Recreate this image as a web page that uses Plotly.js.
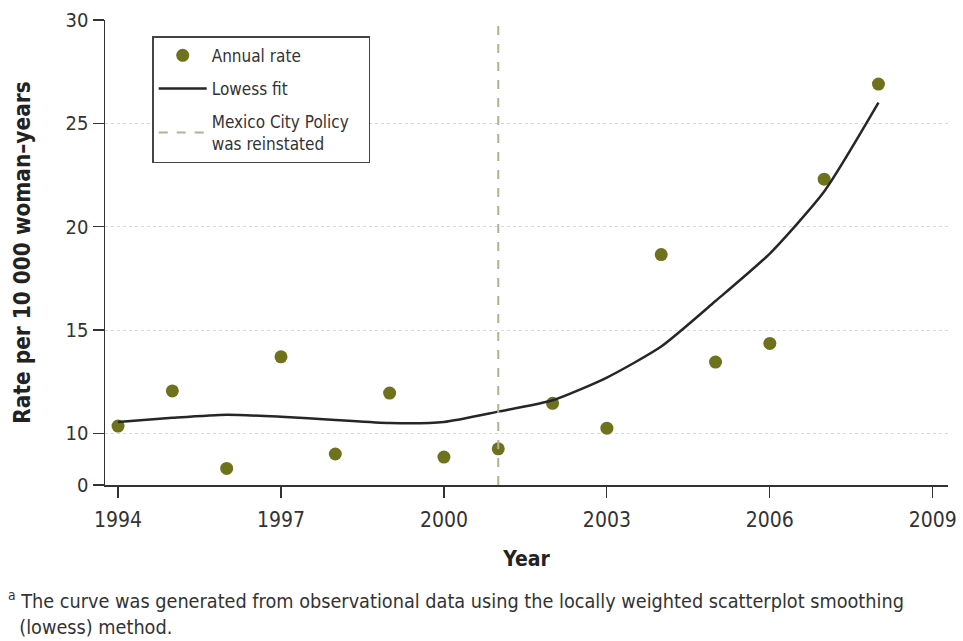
<!DOCTYPE html>
<html>
<head>
<meta charset="utf-8">
<script src="https://cdn.plot.ly/plotly-3.0.1.min.js"></script>
<style>html,body{margin:0;padding:0;background:#fff;}#chart{width:963px;height:641px;}</style>
</head>
<body>
<div id="chart"></div>
<script>
// Data (y axis is broken: the "0" label sits at 7.5)
const years = [1994,1995,1996,1997,1998,1999,2000,2001,2002,2003,2004,2005,2006,2007,2008];
const annualRate = [10.35,12.05,8.3,13.7,9.0,11.95,8.85,9.25,11.45,10.25,18.65,13.45,14.35,22.3,26.9];
const lowessFit = [10.55,10.75,10.9,10.8,10.65,10.5,10.55,11.05,11.6,12.7,14.2,16.4,18.7,21.7,26.0];
const policyYear = [2001,2001];
const policyY = [7.5,30];
const yTickVals = [7.5,10,15,20,25,30];
const yTickText = ["0","10","15","20","25","30"];
const xTickVals = [1994,1997,2000,2003,2006,2009];

const FONT = '"DejaVu Sans Condensed","DejaVu Sans",sans-serif';
const NB = '\u00a0';

const traces = [
  {x: years, y: annualRate, type:'scatter', mode:'markers', name:'Annual rate', legendgroup:'a',
   marker:{color:'#6f721d', size:13}},
  {x: years, y: lowessFit, type:'scatter', mode:'lines', name:'Lowess fit', legendgroup:'b',
   line:{color:'#262626', width:2.5, shape:'spline', smoothing:0.6}},
  {x: policyYear, y: policyY, type:'scatter', mode:'lines',
   name:'Mexico City Policy' + NB + NB + NB + '<br>was reinstated', legendgroup:'c',
   line:{color:'#b3b194', width:2, dash:'dash'}}
];

const layout = {
  width:963, height:641,
  margin:{l:105, r:15, t:20, b:156},
  paper_bgcolor:'#fff', plot_bgcolor:'#fff',
  font:{family:FONT, color:'#333', size:17},
  showlegend:true,
  legend:{x:0.056, y:0.965, xanchor:'left', yanchor:'top',
    bordercolor:'#444', borderwidth:1.5, bgcolor:'#fff',
    font:{family:FONT, size:17, color:'#333'}, tracegroupgap:8, itemwidth:48},
  xaxis:{range:[1993.76,2009.28], tickvals:xTickVals, ticks:'outside', ticklen:11,
    tickcolor:'#333', tickwidth:1.2, showline:true, linecolor:'#333', linewidth:1.5,
    showgrid:false, zeroline:false, ticklabelstandoff:4,
    tickfont:{family:FONT, size:21, color:'#333'},
    title:{text:'<b>Year</b>', font:{family:FONT, size:21, color:'#222'}, standoff:20}},
  yaxis:{range:[7.5,30], tickvals:yTickVals, ticktext:yTickText, ticks:'outside', ticklen:11,
    tickcolor:'#333', tickwidth:1.2, showline:true, linecolor:'#333', linewidth:1.5,
    showgrid:true, gridcolor:'#d9d9d9', griddash:'dot', gridwidth:1, zeroline:false,
    tickfont:{family:FONT, size:20, color:'#333'},
    title:{text:'<b>Rate per 10 000 woman–years</b>', font:{family:FONT, size:22.4, color:'#222'}, standoff:29}},
  annotations:[
    {xref:'paper', yref:'paper', x:-0.117, y:-0.215, xanchor:'left', yanchor:'top', align:'left',
     showarrow:false, font:{family:FONT, size:19.7, color:'#333'},
     text:'<sup>a</sup> The curve was generated from observational data using the locally weighted scatterplot smoothing<br>' + NB + NB + '(lowess) method.'}
  ]
};

Plotly.newPlot('chart', traces, layout, {displayModeBar:false, staticPlot:true});
</script>
</body>
</html>
